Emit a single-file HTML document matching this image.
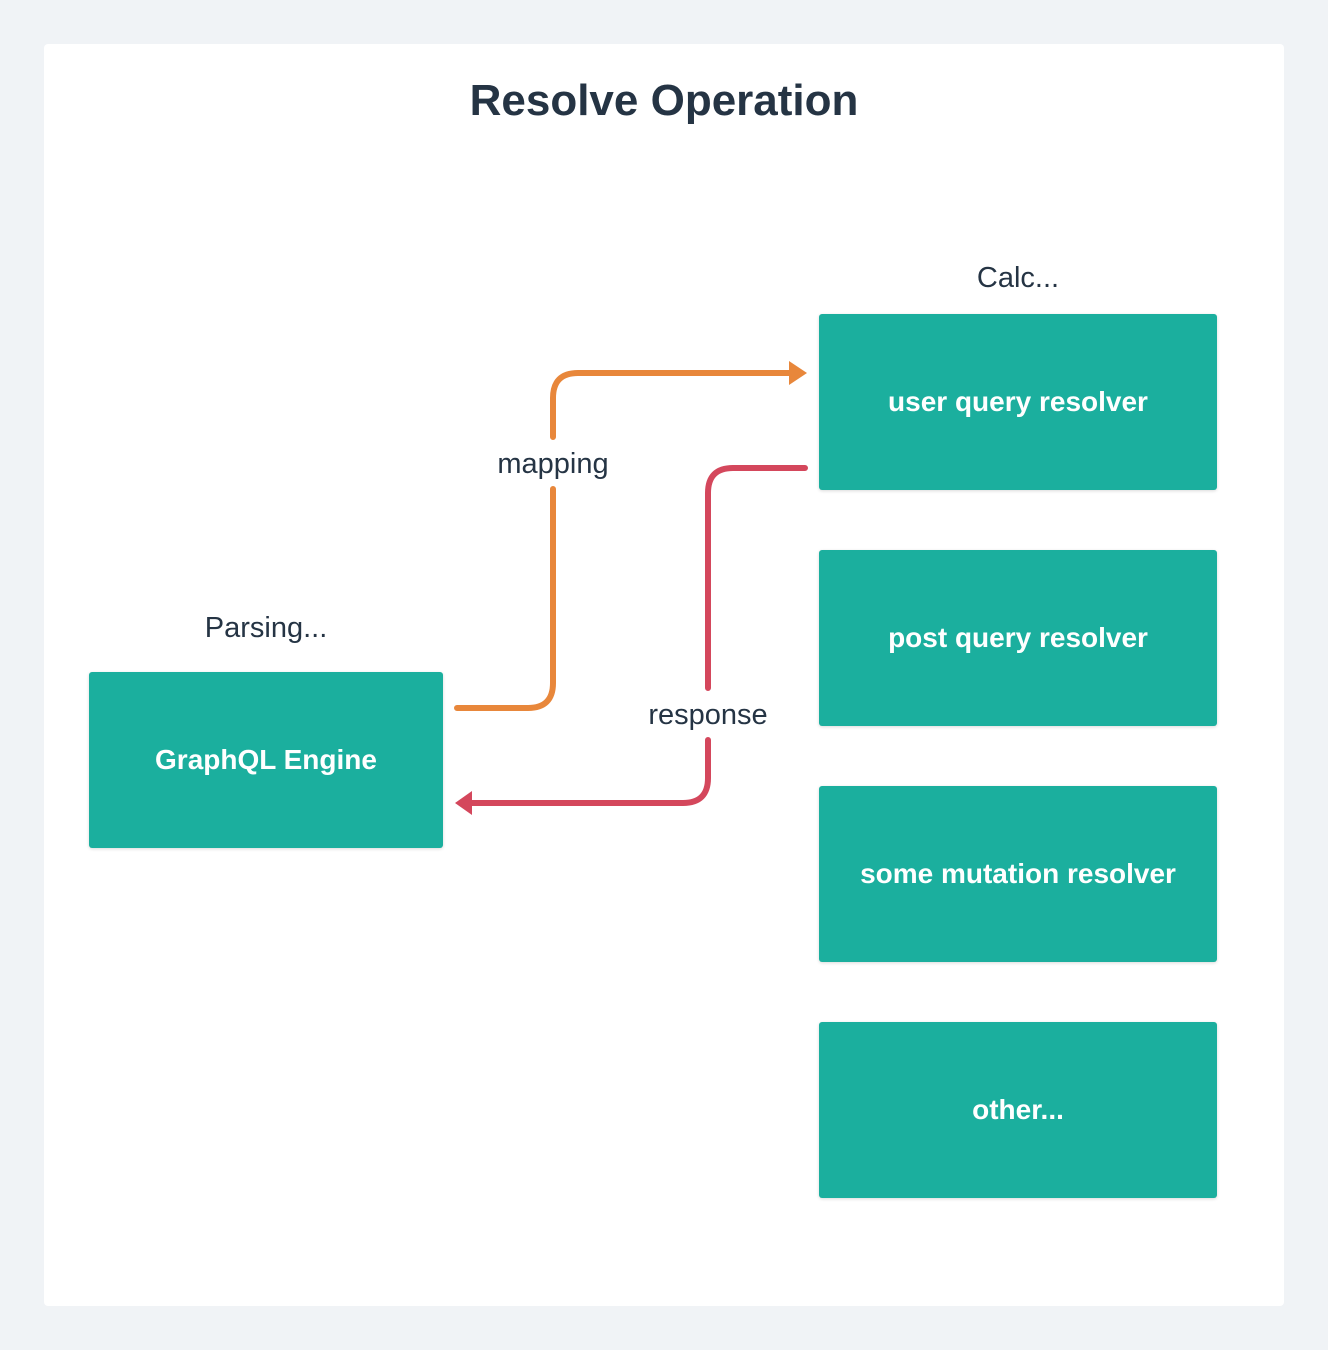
<!DOCTYPE html>
<html><head><style>
body{margin:0;width:1328px;height:1350px;background:#f0f3f6;font-family:"Liberation Sans",sans-serif;position:relative;overflow:hidden}
.card{position:absolute;left:44px;top:44px;width:1240px;height:1262px;background:#fff;border-radius:4px}
.box{position:absolute;background:#1baf9e;color:#fff;font-size:28px;font-weight:bold;display:flex;align-items:center;justify-content:center;border-radius:3px;box-shadow:0 1px 3px rgba(0,0,0,.15)}
.lbl{position:absolute;color:#253444;font-size:29px;transform:translateX(-50%);white-space:nowrap}
</style></head><body>
<div class="card"></div>
<div class="lbl" style="left:664px;top:76px;font-size:44px;font-weight:bold">Resolve Operation</div>
<div class="lbl" style="left:1018px;top:262px">Calc...</div>
<div class="lbl" style="left:266px;top:612px">Parsing...</div>
<div class="box" style="left:89px;top:672px;width:354px;height:176px">GraphQL Engine</div>
<div class="box" style="left:819px;top:314px;width:398px;height:176px">user query resolver</div>
<div class="box" style="left:819px;top:550px;width:398px;height:176px">post query resolver</div>
<div class="box" style="left:819px;top:786px;width:398px;height:176px">some mutation resolver</div>
<div class="box" style="left:819px;top:1022px;width:398px;height:176px">other...</div>
<svg width="1328" height="1350" style="position:absolute;left:0;top:0">
<g fill="none" stroke-width="6" stroke-linecap="round">
<path d="M457 708 H528 Q553 708 553 683 V489" stroke="#e8873b"/>
<path d="M553 437 V398 Q553 373 578 373 H792" stroke="#e8873b"/>
<path d="M805 468 H733 Q708 468 708 493 V688" stroke="#d4475c"/>
<path d="M708 740 V778 Q708 803 683 803 H470" stroke="#d4475c"/>
</g>
<polygon points="789,361 807,373 789,385" fill="#e8873b"/>
<polygon points="472,791 455,803 472,815" fill="#d4475c"/>
</svg>
<div class="lbl" style="left:553px;top:448px">mapping</div>
<div class="lbl" style="left:708px;top:699px">response</div>
</body></html>
